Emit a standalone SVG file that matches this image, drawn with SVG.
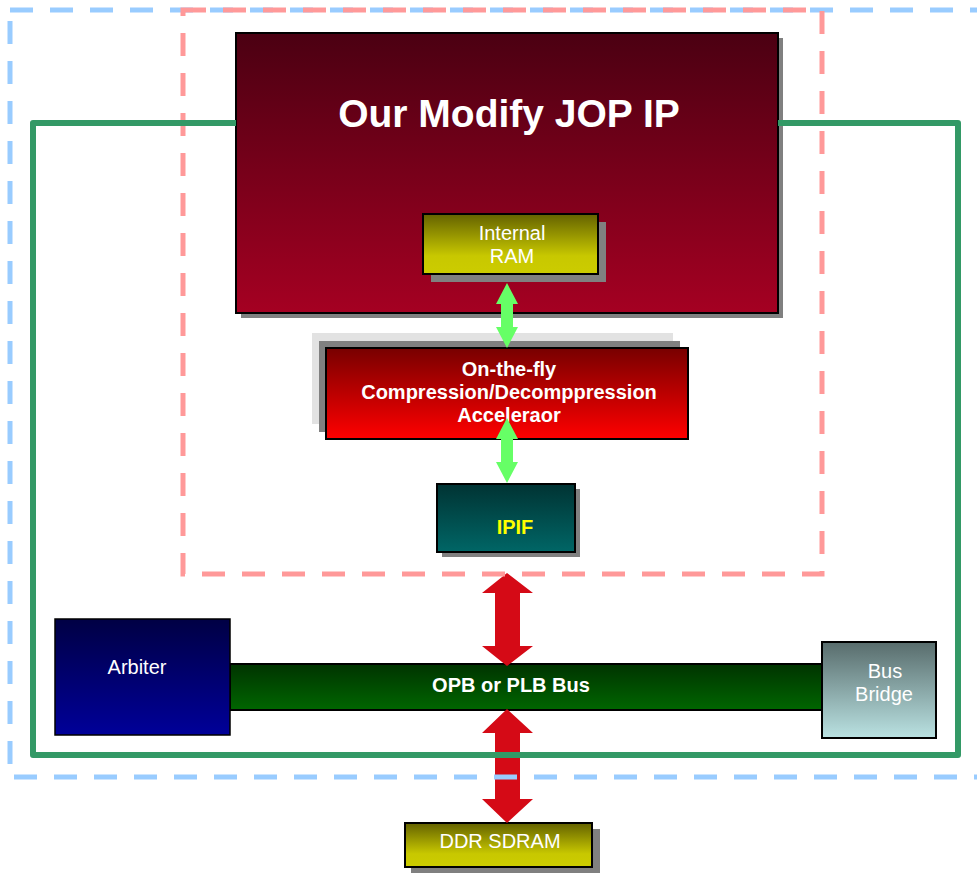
<svg xmlns="http://www.w3.org/2000/svg" width="977" height="873" viewBox="0 0 977 873">
<style>
  .box { stroke: #000; stroke-width: 2; }
  .shadow { fill: #808080; }
  .t { font-family: "Liberation Sans", Arial, sans-serif; font-size: 20px; fill: #fff; text-anchor: middle; }
  .b { font-weight: bold; }
  .frame { fill: none; }
</style>
<defs>
  <linearGradient id="gJop" x1="0" y1="0" x2="0" y2="1"><stop offset="0" stop-color="#4b0012"/><stop offset="1" stop-color="#a50022"/></linearGradient>
  <linearGradient id="gOlive" x1="0" y1="0" x2="0" y2="1"><stop offset="0" stop-color="#646200"/><stop offset="0.7" stop-color="#c8c800"/><stop offset="1" stop-color="#cccc00"/></linearGradient>
  <linearGradient id="gAcc" x1="0" y1="0" x2="0" y2="1"><stop offset="0" stop-color="#780000"/><stop offset="1" stop-color="#ff0000"/></linearGradient>
  <linearGradient id="gIpif" x1="0" y1="0" x2="0" y2="1"><stop offset="0" stop-color="#003333"/><stop offset="1" stop-color="#006666"/></linearGradient>
  <linearGradient id="gArb" x1="0" y1="0" x2="0" y2="1"><stop offset="0" stop-color="#000044"/><stop offset="1" stop-color="#000099"/></linearGradient>
  <linearGradient id="gBus" x1="0" y1="0" x2="0" y2="1"><stop offset="0" stop-color="#003300"/><stop offset="1" stop-color="#006600"/></linearGradient>
  <linearGradient id="gBridge" x1="0" y1="0" x2="0" y2="1"><stop offset="0" stop-color="#586c6c"/><stop offset="1" stop-color="#bae2e2"/></linearGradient>
</defs>

<g id="nodes">
  <g id="jop">
    <rect class="shadow" x="241" y="38" width="542" height="280"/>
    <rect class="box" x="236" y="33" width="542" height="280" fill="url(#gJop)"/>
    <text class="t b" x="509" y="127" style="font-size:39px">Our Modify JOP IP</text>
  </g>
  <g id="internal-ram">
    <rect class="shadow" x="431" y="222" width="175" height="60"/>
    <rect class="box" x="423" y="214" width="175" height="60" fill="url(#gOlive)"/>
    <text class="t" x="512" y="240">Internal</text>
    <text class="t" x="512" y="263">RAM</text>
  </g>
  <g id="accelerator">
    <rect x="312" y="333" width="361" height="91" fill="#e2e2e2"/>
    <rect class="shadow" x="319" y="341" width="361" height="91"/>
    <rect class="box" x="326" y="348" width="362" height="91" fill="url(#gAcc)"/>
    <text class="t b" x="509" y="376">On-the-fly</text>
    <text class="t b" x="509" y="399">Compression/Decomppression</text>
    <text class="t b" x="509" y="422">Acceleraor</text>
  </g>
  <g id="ipif">
    <rect class="shadow" x="442" y="489" width="138" height="68"/>
    <rect class="box" x="437" y="484" width="138" height="68" fill="url(#gIpif)"/>
    <text class="t b" x="515" y="534" style="fill:#ffff00">IPIF</text>
  </g>
  <g id="bus">
    <rect class="box" x="230" y="664" width="592" height="46" fill="url(#gBus)"/>
    <text class="t b" x="511" y="692">OPB or PLB Bus</text>
  </g>
  <g id="arbiter">
    <rect class="box" x="55" y="619" width="175" height="116" fill="url(#gArb)" style="stroke-width:1.5"/>
    <text class="t" x="137" y="674">Arbiter</text>
  </g>
  <g id="bus-bridge">
    <rect class="box" x="822" y="642" width="114" height="96" fill="url(#gBridge)"/>
    <text class="t" x="885" y="678">Bus</text>
    <text class="t" x="884" y="701">Bridge</text>
  </g>
  <g id="ddr-sdram">
    <rect class="shadow" x="411" y="829" width="189" height="44"/>
    <rect class="box" x="405" y="823" width="187" height="44" fill="url(#gOlive)"/>
    <text class="t" x="500" y="848">DDR SDRAM</text>
  </g>
</g>

<g id="connectors">
  <path fill="#66ff66" d="M507,283 L518,304 L513,304 L513,327 L518,327 L507,348 L496,327 L501,327 L501,304 L496,304 Z"/>
  <path fill="#66ff66" d="M507,418 L518,439 L513,439 L513,462 L518,462 L507,483 L496,462 L501,462 L501,439 L496,439 Z"/>
  <path fill="#d50a16" d="M507,573 L533,593 L520,593 L520,646 L533,646 L507,666 L482,646 L495,646 L495,593 L482,593 Z"/>
  <path fill="#d50a16" d="M507,709 L533,733 L520,733 L520,799 L533,799 L507,823 L482,799 L495,799 L495,733 L482,733 Z"/>
</g>

<g id="frames">
  <rect class="frame" x="10" y="10" width="990" height="767" stroke="#99ccff" stroke-width="5" stroke-dasharray="23 17"/>
  <rect class="frame" x="183" y="10" width="639" height="564" stroke="#ff9999" stroke-width="5" stroke-dasharray="23 17"/>
  <path class="frame" d="M236,123 L33,123 L33,755 L958,755 L958,123 L778,123" stroke="#339966" stroke-width="6" stroke-linejoin="round"/>
</g>
</svg>
